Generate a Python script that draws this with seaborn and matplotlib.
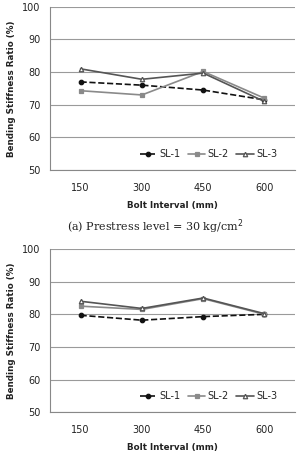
import matplotlib
matplotlib.use("Agg")
import matplotlib.pyplot as plt
import seaborn as sns
import pandas as pd

# Data
intervals = ["150", "300", "450", "600"]
series = ["SL-1", "SL-2", "SL-3"]

top_sl1 = [77.0, 76.0, 74.5, 71.5]
top_sl2 = [74.3, 73.0, 80.2, 72.0]
top_sl3 = [81.0, 77.8, 79.7, 71.0]

bot_sl1 = [79.7, 78.2, 79.3, 80.0]
bot_sl2 = [82.5, 81.5, 84.8, 80.0]
bot_sl3 = [84.0, 81.8, 85.0, 80.2]

caption_top = "(a) Prestress level = 30 kg/cm$^2$"

sns.set_theme(style="white")
plt.rcParams['font.family'] = ['DejaVu Sans']

colors = {"SL-1": "#111111", "SL-2": "#8a8a8a", "SL-3": "#555555"}
markers = ["o", "s", "^"]
linestyles = ["--", "-", "-"]


def make_df(a, b, c):
    rows = []
    for name, vals in zip(series, [a, b, c]):
        for x, v in zip(intervals, vals):
            rows.append({"interval": x, "ratio": v, "series": name})
    return pd.DataFrame(rows)


def draw(ax, df):
    sns.pointplot(data=df, x="interval", y="ratio", hue="series", order=intervals,
                  hue_order=series, palette=colors, markers=markers,
                  linestyles=linestyles, dodge=False, errorbar=None,
                  markersize=3.2, linewidth=1.2, ax=ax)
    # open triangles for SL-3
    for ln in ax.lines:
        if ln.get_marker() == "^":
            ln.set_markerfacecolor("white")
            ln.set_markeredgecolor("#555555")
    ax.set_ylim(50, 100)
    ax.set_yticks([50, 60, 70, 80, 90, 100])
    ax.set_xlim(-0.5, 3.5)
    ax.yaxis.grid(True, color="#9a9a9a", linewidth=0.8)
    ax.set_axisbelow(True)
    for s in ["top", "right"]:
        ax.spines[s].set_visible(False)
    for s in ["left", "bottom"]:
        ax.spines[s].set_color("#888888")
        ax.spines[s].set_linewidth(0.8)
    ax.tick_params(axis="both", labelsize=7, colors="#222222", length=0)
    ax.tick_params(axis="x", pad=9)
    ax.tick_params(axis="y", pad=4)
    # tick marks between categories
    ax.set_xticks([-0.5, 0.5, 1.5, 2.5, 3.5], minor=True)
    ax.tick_params(axis="x", which="minor", length=3, color="#888888", direction="out", width=0.8)
    ax.tick_params(axis="y", which="major", length=3, color="#888888", direction="out", width=0.8)
    ax.set_xlabel("Bolt Interval (mm)", fontsize=6.3, fontweight="bold", color="#222222", labelpad=6)
    ax.set_ylabel("Bending Stiffness Ratio (%)", fontsize=6.3, fontweight="bold", color="#222222", labelpad=4)
    ax.legend(loc="lower right", bbox_to_anchor=(0.95, 0.03), ncol=3, frameon=False,
              fontsize=7, handlelength=1.8, columnspacing=0.8, handletextpad=0.2,
              borderaxespad=0.2)


fig = plt.figure(figsize=(2.99, 4.57), dpi=100)
ax1 = fig.add_axes([0.167, 0.628, 0.82, 0.357])
ax2 = fig.add_axes([0.167, 0.098, 0.82, 0.357])

draw(ax1, make_df(top_sl1, top_sl2, top_sl3))
draw(ax2, make_df(bot_sl1, bot_sl2, bot_sl3))

fig.text(0.52, 0.505, caption_top, ha="center", va="center", fontsize=8,
         family="DejaVu Serif", color="#222222")

fig.savefig("out.png", dpi=100)
